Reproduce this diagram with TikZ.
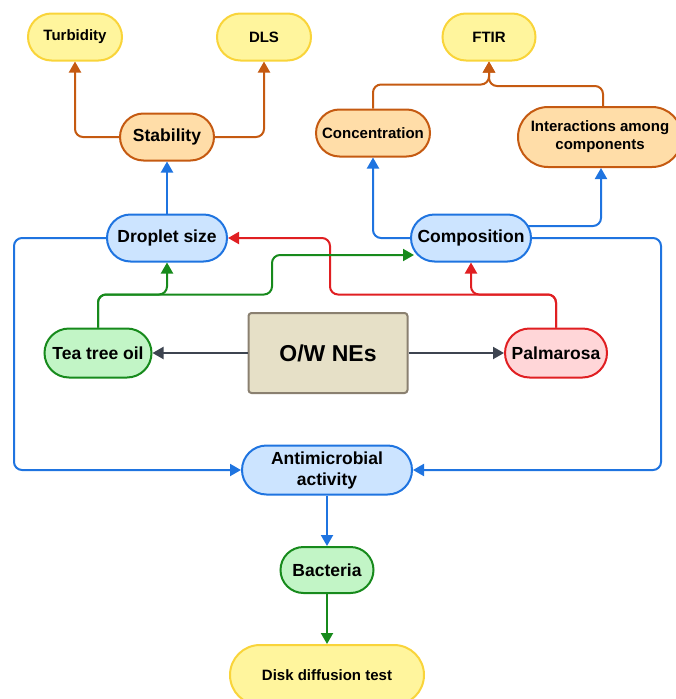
\documentclass[tikz,border=0pt]{standalone}
\usepackage{fontspec}
\setmainfont{Liberation Sans}
\usetikzlibrary{arrows.meta}

\definecolor{yfill}{HTML}{FFF59D}
\definecolor{ydraw}{HTML}{F9D43A}
\definecolor{ofill}{HTML}{FFDDA8}
\definecolor{odraw}{HTML}{C55A11}
\definecolor{bfill}{HTML}{CCE4FF}
\definecolor{bdraw}{HTML}{1F74E0}
\definecolor{gfill}{HTML}{C2F5C6}
\definecolor{gdraw}{HTML}{178A1C}
\definecolor{rfill}{HTML}{FFD6D8}
\definecolor{rdraw}{HTML}{E01F22}
\definecolor{owfill}{HTML}{E6E0C7}
\definecolor{owdraw}{HTML}{8A8070}
\definecolor{arrgray}{HTML}{3D4450}

\begin{document}
\begin{tikzpicture}[x=1pt,y=-1pt,font=\bfseries,
    % styles
    box/.style={line width=2pt,align=center,inner sep=0pt,minimum height=47pt,
      rounded corners=23.5pt},
    test box/.style={box,fill=yfill,draw=ydraw,font=\bfseries\fontsize{15}{18}\selectfont},
    prop box/.style={box,fill=ofill,draw=odraw},
    main box/.style={box,fill=bfill,draw=bdraw,font=\bfseries\fontsize{17.5}{21}\selectfont},
    oil box/.style={box,minimum height=49pt,rounded corners=24.5pt,
      font=\bfseries\fontsize{17.5}{21}\selectfont},
    tip/.style={-{Triangle[length=11pt,width=12pt]}},
    link/.style={tip,line width=2pt,rounded corners=8pt},
    orange link/.style={link,draw=odraw},
    blue link/.style={link,draw=bdraw},
    green link/.style={link,draw=gdraw},
    red link/.style={link,draw=rdraw},
    gray link/.style={link,draw=arrgray}]

  \useasboundingbox (0,0) rectangle (676,699);

  % tests
  \node[test box,minimum width=94pt] (turb) at (75,37) {Turbidity};
  \node[test box,minimum width=94pt] (dls) at (264,37) {DLS};
  \node[test box,minimum width=93pt] (ftir) at (489,37) {FTIR};

  % properties
  \node[prop box,minimum width=94pt,font=\bfseries\fontsize{17.5}{21}\selectfont]
    (stab) at (167,137) {Stability};
  \node[prop box,minimum width=114pt,font=\bfseries\fontsize{15}{18}\selectfont]
    (conc) at (373,133) {Concentration};
  \node[prop box,minimum width=164pt,minimum height=60pt,rounded corners=30pt,
    font=\bfseries\fontsize{15}{18}\selectfont]
    (inter) at (600,137) {Interactions among\\components};

  % characteristics
  \node[main box,minimum width=120pt] (drop) at (167,238) {Droplet size};
  \node[main box,minimum width=120pt] (comp) at (471,238) {Composition};

  % oils and nanoemulsion
  \node[oil box,fill=gfill,draw=gdraw,minimum width=107pt] (tea) at (98,353) {Tea tree oil};
  \node[oil box,fill=rfill,draw=rdraw,minimum width=102pt] (palm) at (556,353) {Palmarosa};
  \node[draw=owdraw,fill=owfill,line width=2pt,rounded corners=3pt,
    minimum width=159pt,minimum height=80pt,font=\bfseries\fontsize{23}{27}\selectfont]
    (ow) at (328,353) {O/W NEs};

  % activity
  \node[main box,minimum width=170pt,minimum height=49pt,rounded corners=24.5pt]
    (anti) at (327,470) {Antimicrobial\\activity};
  \node[oil box,fill=gfill,draw=gdraw,minimum width=93pt,minimum height=46pt,
    rounded corners=23pt] (bact) at (327,570) {Bacteria};
  \node[test box,minimum width=194pt,minimum height=60pt,rounded corners=30pt]
    (disk) at (327,675) {Disk diffusion test};

  % lanes
  \coordinate (lft) at (14,0);
  \coordinate (rgt) at (661,0);

  % stability and composition to tests
  \draw[orange link] (stab.west) -| (turb.south);
  \draw[orange link] (stab.east) -| (dls.south);
  \draw[orange link] (conc.north) -- ++(0,-24) -| (ftir.south);
  \draw[orange link] ([xshift=3pt]inter.north) -- ++(0,-20) -| (ftir.south);

  % characteristics to properties
  \draw[blue link] (drop.north) -- (stab.south);
  \draw[blue link] (comp.west) -| (conc.south);
  \draw[blue link] ([shift={(-4pt,12pt)}]comp.east) -| ([xshift=1pt]inter.south);

  % characteristics to activity
  \draw[blue link] (drop.west) -| (lft |- anti.west) -- (anti.west);
  \draw[blue link] (comp.east) -| (rgt |- anti.west) -- (anti.east);

  % palmarosa
  \draw[red link] (palm.north) -- ++(0,-33) -| (comp.south);
  \draw[red link] (palm.north) -- ++(0,-33) -- ++(-226,0) |- (drop.east);

  % tea tree oil
  \draw[green link] (tea.north) -- ++(0,-33) -| (drop.south);
  \draw[green link] (tea.north) -- ++(0,-33) -- ++(174,0)
    |- ([shift={(4pt,-17pt)}]comp.west);

  % nanoemulsion to oils
  \draw[gray link] (ow.west) -- (tea.east);
  \draw[gray link] (ow.east) -- (palm.west);

  % activity
  \draw[blue link] (anti.south) -- (bact.north);
  \draw[green link] (bact.south) -- (disk.north);
\end{tikzpicture}
\end{document}
